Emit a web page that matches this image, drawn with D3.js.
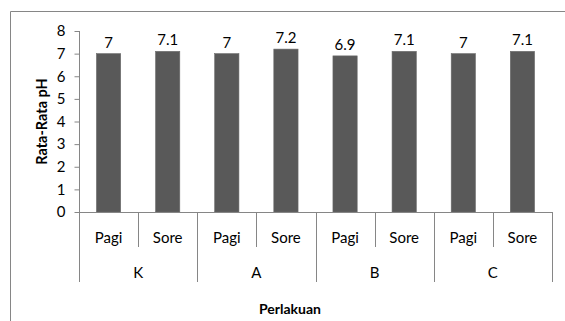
<!DOCTYPE html>
<html>
<head>
<meta charset="utf-8">
<script src="https://cdn.jsdelivr.net/npm/d3@7"></script>
<style>
  html, body { margin: 0; padding: 0; background: #fff; }
  svg { display: block; }
  text { font-family: Lato, "Open Sans", sans-serif; fill: #000; }
</style>
</head>
<body>
<svg id="chart" width="565" height="321"></svg>
<script>
// Average pH per treatment (K, A, B, C), morning (Pagi) and afternoon (Sore)
const groups = ["K", "A", "B", "C"];
const times = ["Pagi", "Sore"];
const pagiValues = [7, 7, 6.9, 7];
const soreValues = [7.1, 7.2, 7.1, 7.1];
const yTicks = [0, 1, 2, 3, 4, 5, 6, 7, 8];
const yTitle = "Rata-Rata pH";
const xTitle = "Perlakuan";

const rows = [];
groups.forEach((g, i) => {
  rows.push({ group: g, time: times[0], value: pagiValues[i] });
  rows.push({ group: g, time: times[1], value: soreValues[i] });
});

const svg = d3.select("#chart");
const axisColor = "#868686";
const plotLeft = 79, plotRight = 552, plotTop = 31, plotBase = 212;
const labelSize = "15px";

// chart frame (top and left edges visible)
svg.append("line").attr("x1", 10.5).attr("x2", 565).attr("y1", 11.5).attr("y2", 11.5)
  .attr("stroke", axisColor).attr("stroke-width", 1);
svg.append("line").attr("x1", 10.5).attr("x2", 10.5).attr("y1", 11.5).attr("y2", 321)
  .attr("stroke", axisColor).attr("stroke-width", 1);

const x = d3.scaleBand()
  .domain(rows.map((d, i) => i))
  .range([plotLeft, plotRight])
  .paddingInner(0.59).paddingOuter(0.295);
const band = (plotRight - plotLeft) / rows.length;

const y = d3.scaleLinear().domain([0, 8]).range([plotBase, plotTop]);

// y axis
const yAxis = d3.axisLeft(y).tickValues(yTicks).tickSize(5).tickPadding(9).tickFormat(d3.format("d"));
const gy = svg.append("g").attr("transform", `translate(${plotLeft + 0.5},0)`).call(yAxis);
gy.selectAll("path, line").attr("stroke", axisColor);
gy.select(".domain").attr("d", `M0,${plotTop}V${plotBase}`);
gy.selectAll("text").style("font-size", labelSize).style("font-family", "Lato, sans-serif").attr("fill", "#000");

// bars
svg.append("g").selectAll("rect").data(rows).join("rect")
  .attr("x", (d, i) => x(i))
  .attr("width", x.bandwidth())
  .attr("y", d => y(d.value))
  .attr("height", d => plotBase - y(d.value))
  .attr("fill", "#595959")
  .attr("stroke", "#6a6a6a")
  .attr("stroke-width", 0.6);

// value labels
svg.append("g").selectAll("text").data(rows).join("text")
  .attr("x", (d, i) => x(i) + x.bandwidth() / 2)
  .attr("y", d => y(d.value) - 6)
  .attr("text-anchor", "middle")
  .style("font-size", labelSize)
  .text(d => d.value);

// category axis baseline
svg.append("line").attr("x1", plotLeft).attr("x2", plotRight).attr("y1", plotBase + 0.5).attr("y2", plotBase + 0.5)
  .attr("stroke", axisColor);

// separators between bars (short) and between groups (long)
const sepIdx = d3.range(rows.length + 1);
svg.append("g").selectAll("line").data(sepIdx).join("line")
  .attr("x1", i => Math.round(plotLeft + i * band) + 0.5)
  .attr("x2", i => Math.round(plotLeft + i * band) + 0.5)
  .attr("y1", plotBase)
  .attr("y2", i => (i % 2 === 0 ? 282 : 247))
  .attr("stroke", axisColor);

// time labels
svg.append("g").selectAll("text").data(rows).join("text")
  .attr("x", (d, i) => plotLeft + (i + 0.5) * band)
  .attr("y", 243)
  .attr("text-anchor", "middle")
  .style("font-size", labelSize)
  .text(d => d.time);

// group labels
svg.append("g").selectAll("text").data(groups).join("text")
  .attr("x", (d, i) => plotLeft + (i * 2 + 1) * band)
  .attr("y", 278)
  .attr("text-anchor", "middle")
  .style("font-size", labelSize)
  .text(d => d);

// axis titles
svg.append("text")
  .attr("x", 290).attr("y", 314)
  .attr("text-anchor", "middle")
  .style("font-size", "14px").style("font-weight", "bold")
  .text(xTitle);

svg.append("text")
  .attr("transform", `translate(47,${(plotTop + plotBase) / 2}) rotate(-90)`)
  .attr("text-anchor", "middle")
  .style("font-size", "14.5px").style("font-weight", "bold")
  .text(yTitle);
</script>
</body>
</html>
